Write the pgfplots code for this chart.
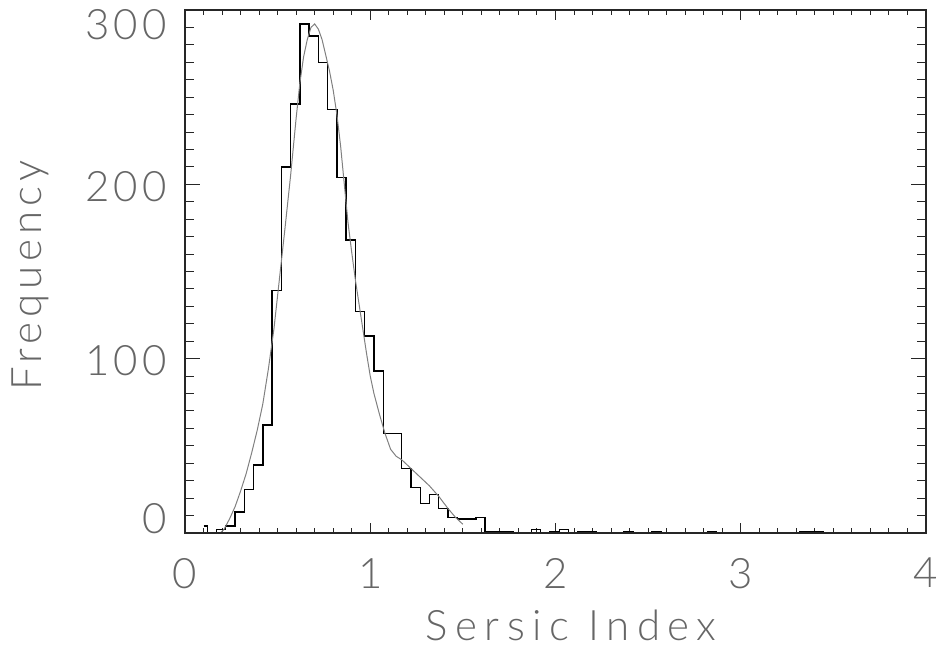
\documentclass[border=0pt]{standalone}
\usepackage{fontspec}
\setmainfont{Lato Light}
\newfontfamily\tickfont{Lato Light}[LetterSpace=10]
\newfontfamily\ylabfont{Lato Light}[LetterSpace=12]
\newfontfamily\xlabfont{Lato Light}[LetterSpace=18]
\usepackage{pgfplots}
\pgfplotsset{compat=1.18}

\begin{document}
\begin{tikzpicture}
% main axis: data, x ticks, labels
\begin{axis}[
  name=main,
  scale only axis,
  width=741pt, height=523pt,
  xmin=0, xmax=4, ymin=0, ymax=300,
  xtick={0,1,2,3,4}, minor x tick num=9,
  ytick={0,100,200,300},
  yticklabels={\raisebox{17pt}{0},100,200,\raisebox{-13pt}{300}},
  minor y tick num=0,
  ytick style={draw=none},
  tick align=inside,
  major tick length=10pt, minor tick length=5pt,
  axis line style={black!85, line width=1.1pt},
  tick style={black!85, line width=1pt},
  /pgf/number format/assume math mode=true,
  ticklabel style={font=\tickfont\fontsize{42}{48}\selectfont, text=black!60, inner sep=0pt},
  xticklabel style={anchor=north, yshift=-25pt},
  yticklabel style={anchor=base east, xshift=-18pt, yshift=-17pt},
  xlabel={Sersic Index}, ylabel={Frequency},
  label style={text=black!60, inner sep=0pt},
  xlabel style={font=\xlabfont\fontsize{42}{48}\selectfont, at={(axis description cs:0.521,-0.205)}, anchor=base},
  ylabel style={font=\ylabfont\fontsize{42}{48}\selectfont, at={(axis description cs:-0.193,0.493)}, anchor=base},
]
% histogram, bin width 0.05 (left edges)
\addplot[const plot, black, line width=1.4pt] coordinates {
  (0.10,4) (0.12,0) (0.17,2) (0.22,4) (0.27,12) (0.32,25) (0.37,39) (0.42,62)
  (0.47,139) (0.52,210) (0.57,246) (0.62,292) (0.67,285) (0.72,270) (0.77,243)
  (0.82,204) (0.87,168) (0.92,127) (0.97,113) (1.02,93) (1.07,57) (1.12,57)
  (1.17,37) (1.22,26) (1.27,17) (1.32,22) (1.37,14) (1.42,9) (1.47,8) (1.52,8)
  (1.57,9) (1.62,1) (1.67,1) (1.72,1) (1.77,0) (1.82,0) (1.87,2) (1.92,0)
  (1.97,1) (2.02,2) (2.07,0) (2.12,1) (2.17,1) (2.22,0) (2.27,0) (2.32,0)
  (2.37,1) (2.42,0) (2.47,0) (2.52,1) (2.57,0) (2.62,0) (2.67,0) (2.72,0)
  (2.77,0) (2.82,1) (2.87,0) (2.92,0) (2.97,0) (3.02,0) (3.07,0) (3.12,0)
  (3.17,0) (3.22,0) (3.27,0) (3.32,1) (3.37,1) (3.42,1) (3.45,1)
};
% fitted curve
\addplot[black!50, line width=1pt] coordinates {
  (0.19,0) (0.21,2) (0.24,8) (0.27,15) (0.30,24) (0.33,34) (0.36,46) (0.39,59)
  (0.42,74) (0.45,94) (0.48,117) (0.51,146) (0.54,175) (0.57,205) (0.60,238)
  (0.62,258) (0.64,273) (0.66,283) (0.68,290) (0.70,292) (0.72,289) (0.74,283)
  (0.76,274) (0.78,265) (0.80,254) (0.82,240) (0.84,222) (0.86,200) (0.88,178)
  (0.90,161) (0.92,145) (0.94,131) (0.96,117) (0.98,103) (1.00,90) (1.02,80)
  (1.05,68) (1.08,57) (1.11,48) (1.14,44) (1.17,42) (1.22,37) (1.27,32)
  (1.32,27) (1.37,21) (1.42,14) (1.46,9) (1.50,5)
};
\end{axis}
% second axis: only the longer y ticks
\begin{axis}[
  scale only axis,
  width=741pt, height=523pt,
  at={(main.south west)}, anchor=south west,
  xmin=0, xmax=4, ymin=0, ymax=300,
  xtick=\empty,
  ytick={0,100,200,300}, yticklabels={},
  minor y tick num=9,
  tick align=inside,
  major tick length=15pt, minor tick length=9pt,
  axis line style={black!85, line width=1.1pt},
  tick style={black!85, line width=1pt},
]
\end{axis}
\pgfresetboundingbox
\path ([xshift=-185pt,yshift=-129pt]main.south west) rectangle ([xshift=13pt,yshift=10pt]main.north east);
\end{tikzpicture}
\end{document}
